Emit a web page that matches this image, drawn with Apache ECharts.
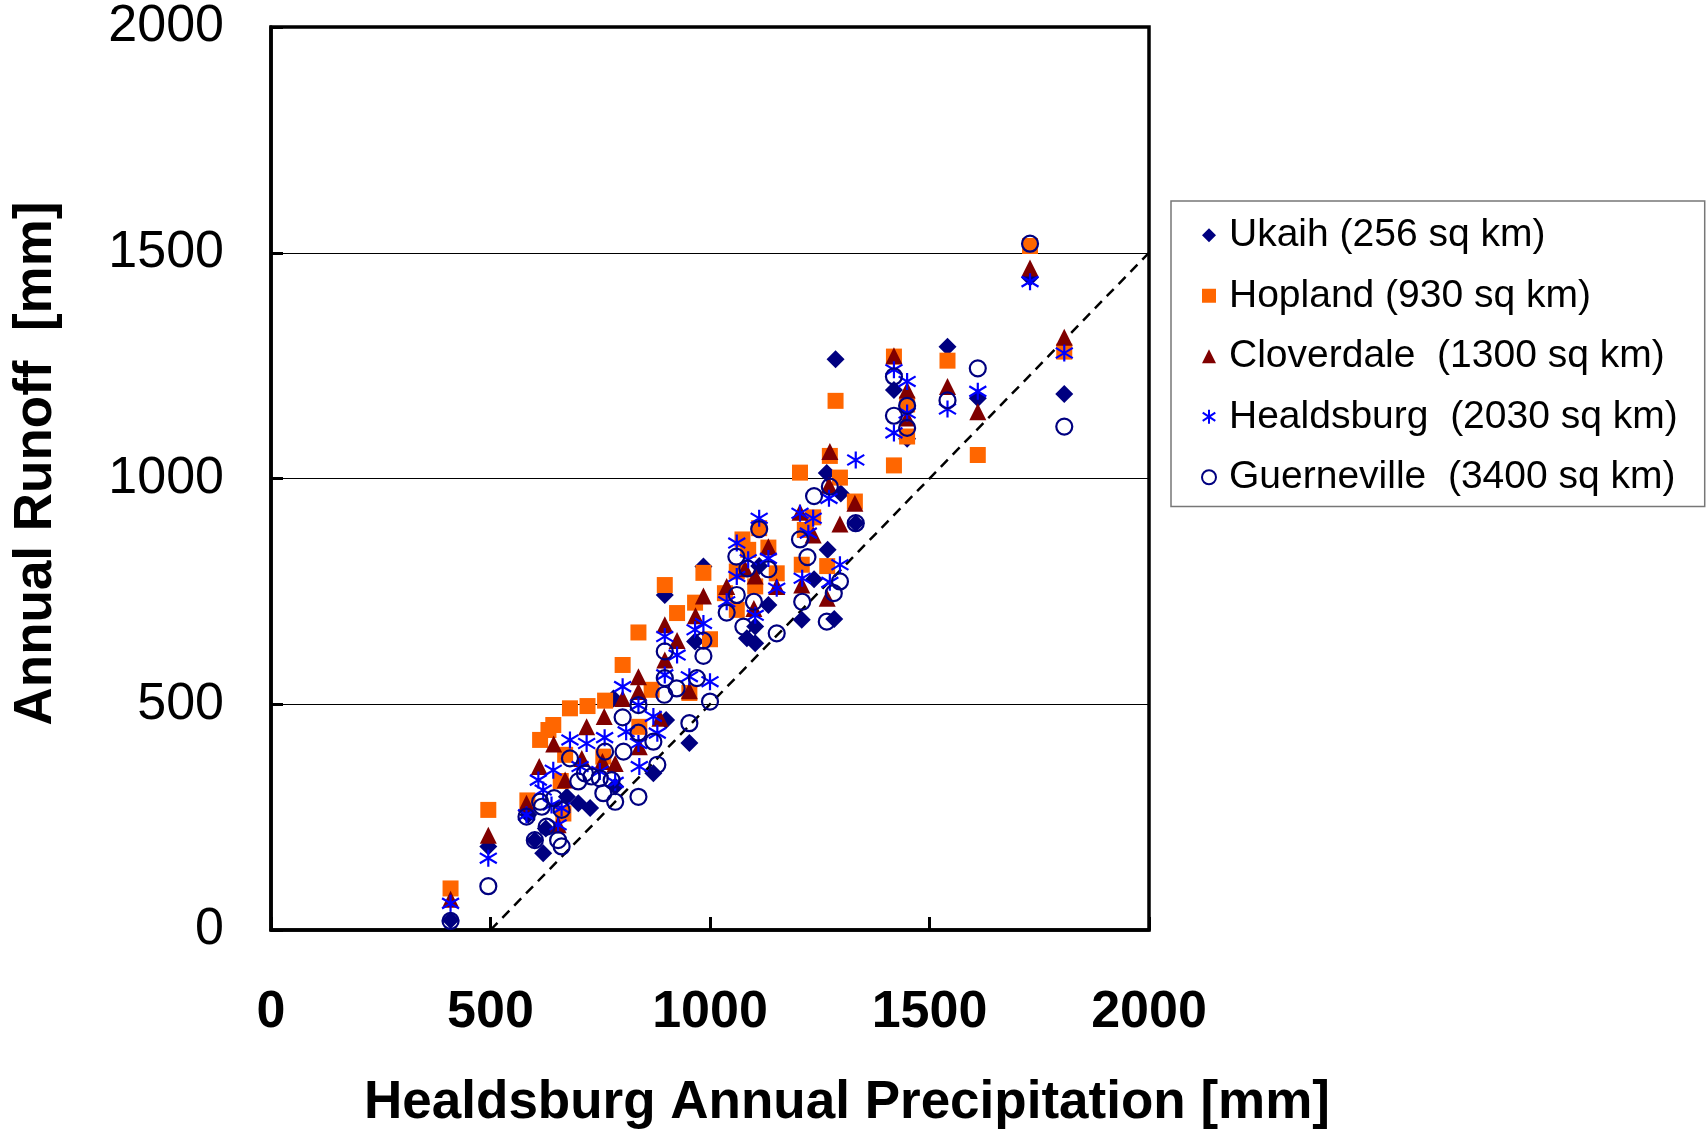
<!DOCTYPE html>
<html>
<head>
<meta charset="utf-8">
<script src="https://cdn.jsdelivr.net/npm/echarts@6/dist/echarts.min.js"></script>
<style>
  html, body { margin: 0; padding: 0; background: #fff; }
  #chart { width: 1706px; height: 1129px; }
</style>
</head>
<body>
<div id="chart"></div>
<script>
/** station names as shown in the legend */
const stations = [
  "Ukaih (256 sq km)",
  "Hopland (930 sq km)",
  "Cloverdale  (1300 sq km)",
  "Healdsburg  (2030 sq km)",
  "Guerneville  (3400 sq km)",
];

/** [Healdsburg precipitation, annual runoff] in mm */
const ukaih = [
  [409, 22], [495, 185], [586, 255], [601, 199], [620, 170], [626, 225],
  [674, 295], [700, 281], [727, 270], [780, 513], [784, 318], [871, 347],
  [897, 742], [900, 465], [953, 414], [966, 639], [985, 805], [1084, 646],
  [1103, 672], [1103, 635], [1112, 806], [1133, 720], [1209, 687], [1237, 777],
  [1268, 842], [1266, 1012], [1283, 689], [1286, 1264], [1298, 967], [1332, 901],
  [1419, 1196], [1449, 1088], [1541, 1292], [1610, 1178], [1729, 1445], [1807, 1187],
];

const hopland = [
  [409, 92], [495, 266], [584, 287], [613, 421], [632, 443], [643, 454],
  [660, 330], [666, 258], [670, 388], [681, 491], [721, 496], [757, 384],
  [761, 508], [801, 587], [837, 659], [839, 450], [867, 532], [897, 764],
  [925, 702], [953, 525], [966, 725], [985, 791], [1000, 644], [1034, 746],
  [1061, 794], [1061, 709], [1074, 865], [1087, 842], [1103, 761], [1112, 890],
  [1133, 847], [1152, 790], [1205, 1013], [1209, 809], [1216, 886], [1235, 914],
  [1267, 806], [1273, 1050], [1286, 1172], [1296, 1002], [1330, 949], [1419, 1270],
  [1419, 1029], [1449, 1164], [1449, 1093], [1541, 1261], [1610, 1052], [1729, 1515],
  [1807, 1281],
];

const cloverdale = [
  [409, 68], [495, 210], [582, 281], [611, 362], [644, 412], [654, 233],
  [670, 332], [708, 380], [719, 450], [755, 373], [759, 473], [784, 369],
  [801, 513], [837, 561], [837, 528], [839, 406], [886, 469], [897, 676],
  [897, 598], [925, 641], [953, 530], [967, 696], [985, 740], [1038, 761],
  [1080, 800], [1100, 712], [1103, 784], [1133, 849], [1152, 761], [1205, 925],
  [1209, 764], [1235, 875], [1267, 735], [1271, 985], [1273, 1060], [1296, 899],
  [1330, 945], [1419, 1272], [1449, 1196], [1449, 1134], [1541, 1204], [1610, 1148],
  [1729, 1466], [1807, 1313],
];

const healdsburg = [
  [409, 59], [495, 159], [582, 255], [609, 332], [620, 310], [639, 277],
  [643, 354], [654, 233], [662, 270], [681, 421], [704, 362], [719, 413],
  [749, 351], [760, 426], [784, 327], [801, 539], [809, 439], [837, 498],
  [837, 413], [839, 362], [871, 473], [880, 436], [897, 650], [897, 565],
  [925, 609], [953, 561], [966, 665], [985, 679], [1000, 550], [1038, 727],
  [1061, 857], [1061, 783], [1087, 820], [1103, 697], [1112, 912], [1133, 823],
  [1152, 757], [1205, 923], [1210, 779], [1224, 879], [1235, 912], [1271, 956],
  [1273, 770], [1296, 809], [1332, 1041], [1419, 1241], [1419, 1101], [1449, 1215],
  [1449, 1145], [1541, 1154], [1610, 1193], [1729, 1436], [1807, 1278],
];

const guerneville = [
  [409, 20], [495, 97], [582, 251], [601, 199], [613, 284], [617, 273],
  [628, 229], [645, 292], [654, 199], [662, 266], [662, 185], [681, 380],
  [700, 329], [715, 347], [730, 340], [749, 336], [757, 303], [761, 395],
  [776, 332], [784, 284], [801, 471], [803, 395], [837, 437], [837, 295],
  [837, 498], [871, 417], [880, 366], [896, 521], [897, 558], [897, 617],
  [924, 535], [953, 458], [970, 558], [985, 607], [985, 641], [1000, 506],
  [1038, 703], [1061, 742], [1060, 827], [1076, 672], [1085, 801], [1100, 727],
  [1112, 888], [1133, 799], [1152, 657], [1205, 865], [1210, 727], [1222, 826],
  [1237, 961], [1266, 683], [1273, 982], [1282, 746], [1296, 772], [1332, 901],
  [1419, 1226], [1419, 1139], [1449, 1161], [1449, 1112], [1541, 1173], [1610, 1244],
  [1729, 1520], [1807, 1115],
];

/** runoff = precipitation - 500 reference line */
const lossLineX = [500, 2000];
const lossLineY = [0, 1500];

const font = "'Liberation Sans', Arial, sans-serif";
const starPath = "path://M10,0L10,20M1,4L19,16M1,16L19,4";

const chart = echarts.init(document.getElementById("chart"), null, { renderer: "canvas" });

const scatter = (name, data, symbol, size, itemStyle) => ({
  name,
  type: "scatter",
  data,
  symbol,
  symbolSize: size,
  itemStyle: { opacity: 1, ...itemStyle },
  z: 3,
});

/** plain numbers, no thousands separator */
const plain = (value) => String(value);

const option = {
  animation: false,
  backgroundColor: "#fff",
  textStyle: { fontFamily: font },
  grid: {
    left: 271,
    top: 27,
    width: 878,
    height: 903,
    outerBoundsMode: "none",
    show: true,
    borderColor: "#000",
    borderWidth: 3.5,
  },
  legend: {
    orient: "vertical",
    left: 1171,
    top: 201,
    data: stations,
    itemWidth: 14,
    itemHeight: 14,
    itemGap: 16,
    padding: [12, 27, 7, 30],
    borderColor: "#777",
    borderWidth: 1.5,
    textStyle: {
      fontFamily: font,
      fontSize: 39,
      lineHeight: 44.5,
      color: "#000",
      padding: [0, 0, 0, 8],
    },
  },
  xAxis: {
    type: "value",
    min: 0,
    max: 2000,
    interval: 500,
    name: "Healdsburg Annual Precipitation [mm]",
    nameLocation: "middle",
    nameGap: 147,
    nameTextStyle: {
      fontFamily: font,
      fontSize: 53,
      fontWeight: "bold",
      color: "#000",
      padding: [0, 0, 0, 274],
    },
    axisLine: { lineStyle: { color: "#000", width: 3.5 } },
    axisTick: { inside: true, length: 13, lineStyle: { color: "#000", width: 3 } },
    splitLine: { show: false },
    axisLabel: {
      margin: 57,
      fontFamily: font,
      fontSize: 52,
      fontWeight: "bold",
      color: "#000",
      formatter: plain,
    },
  },
  yAxis: {
    type: "value",
    min: 0,
    max: 2000,
    interval: 500,
    name: "Annual Runoff  [mm]",
    nameLocation: "middle",
    nameRotate: 90,
    nameGap: 208,
    nameTextStyle: {
      fontFamily: font,
      fontSize: 53,
      fontWeight: "bold",
      color: "#000",
      padding: [0, 0, 0, 30],
    },
    axisLine: { lineStyle: { color: "#000", width: 3.5 } },
    axisTick: { inside: true, length: 12, lineStyle: { color: "#000", width: 3 } },
    splitLine: { show: true, lineStyle: { color: "#000", width: 1.2 } },
    axisLabel: {
      margin: 47,
      fontFamily: font,
      fontSize: 52,
      color: "#000",
      formatter: plain,
    },
  },
  series: [
    {
      name: "1:1 offset",
      type: "line",
      data: lossLineX.map((x, i) => [x, lossLineY[i]]),
      symbol: "none",
      silent: true,
      z: 2,
      lineStyle: { color: "#000", width: 2.5, type: [10, 7] },
    },
    scatter(stations[0], ukaih, "diamond", 18, { color: "#000080" }),
    scatter(stations[1], hopland, "rect", 16, { color: "#FF6600" }),
    scatter(stations[2], cloverdale, "triangle", 17, { color: "#800000" }),
    scatter(stations[3], healdsburg, starPath, 17, {
      color: "#0000FF",
      borderColor: "#0000FF",
      borderWidth: 2.2,
    }),
    scatter(stations[4], guerneville, "circle", 16, {
      color: "rgba(0,0,0,0)",
      borderColor: "#000080",
      borderWidth: 2.2,
    }),
  ],
};

chart.setOption(option);
</script>
</body>
</html>
